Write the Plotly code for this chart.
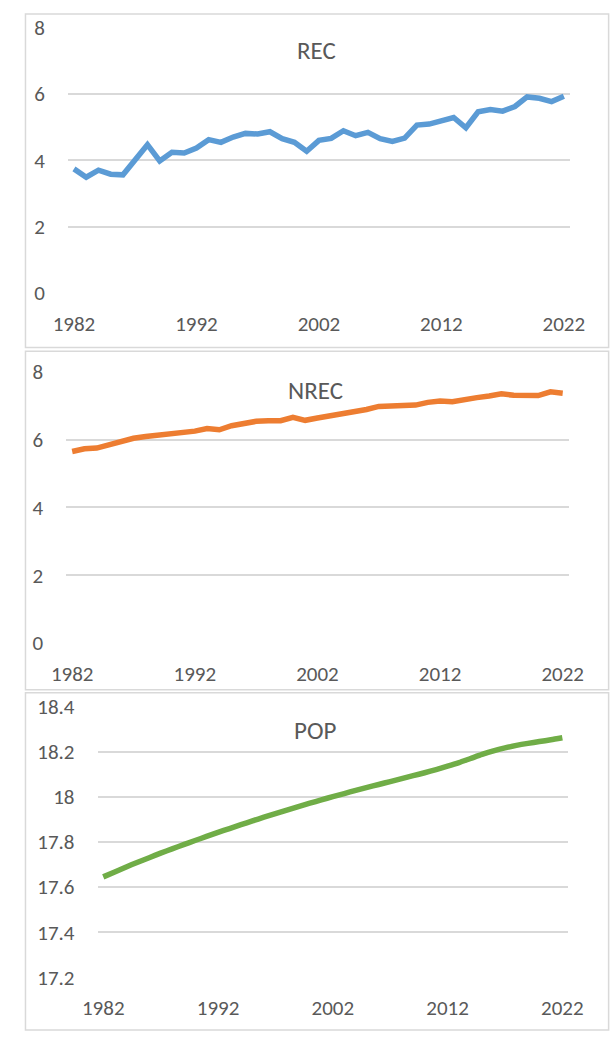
import plotly.graph_objects as go

# Annual series, 1982-2022
years = list(range(1982, 2023))

rec = [3.74, 3.49, 3.70, 3.58, 3.56, 4.03, 4.47, 3.98, 4.24, 4.22,
       4.37, 4.62, 4.54, 4.70, 4.81, 4.79, 4.86, 4.65, 4.54, 4.27,
       4.60, 4.66, 4.89, 4.74, 4.84, 4.65, 4.57, 4.67, 5.06, 5.09,
       5.21, 5.29, 4.98, 5.46, 5.53, 5.48, 5.62, 5.91, 5.87, 5.77,
       5.93]

nrec = [5.65, 5.73, 5.75, 5.85, 5.94, 6.04, 6.09, 6.13, 6.19, 6.22,
        6.25, 6.33, 6.29, 6.41, 6.48, 6.54, 6.56, 6.56, 6.66, 6.57,
        6.64, 6.70, 6.74, 6.79, 6.89, 6.98, 7.00, 7.00, 7.02, 7.10,
        7.14, 7.12, 7.20, 7.24, 7.29, 7.35, 7.31, 7.30, 7.30, 7.41,
        7.37]

pop = [17.645, 17.667, 17.689, 17.710, 17.730, 17.750, 17.769, 17.788,
       17.806, 17.824, 17.842, 17.859, 17.876, 17.893, 17.909, 17.925,
       17.941, 17.956, 17.971, 17.986, 18.000, 18.014, 18.028, 18.041,
       18.054, 18.067, 18.080, 18.093, 18.106, 18.120, 18.135, 18.151,
       18.169, 18.187, 18.203, 18.216, 18.227, 18.236, 18.244, 18.252,
       18.261]

x_ticks = [1982, 1992, 2002, 2012, 2022]
titles = ["REC", "NREC", "POP"]
colors = ["#5B9BD5", "#ED7D31", "#70AD47"]

W, H = 613, 1046
FONT = "Carlito, Calibri, Lato, sans-serif"
TXT = "#595959"
GRID = "#D9D9D9"


def px_x(v):
    return v / W


def px_y(v):
    return 1 - v / H


# plot-area boxes in pixels: (left, right, top, bottom)
areas = [(54.7, 584.5, 15, 287), (52.8, 583.3, 368, 646), (86, 582.5, 711, 989)]
# outer panel frames: (top, bottom)
frames = [(1, 343), (347, 694), (697, 1043)]
# title anchors: (x, y)
title_pos = [(317, 38), (316, 387), (315, 736)]
y_ranges = [[0, 8], [0, 8], [17.2, 18.4]]
y_dticks = [2, 2, 0.2]

series = [rec, nrec, pop]

fig = go.Figure()

for i, (vals, col) in enumerate(zip(series, colors)):
    n = "" if i == 0 else str(i + 1)
    fig.add_trace(go.Scatter(
        x=years, y=vals, mode="lines",
        line=dict(color=col, width=5.5, shape="spline" if i == 2 else "linear",
                  smoothing=0.6),
        xaxis="x" + n, yaxis="y" + n, showlegend=False, hoverinfo="x+y"))

    l, r, t, b = areas[i]
    fig.update_layout({
        "xaxis" + n: dict(
            domain=[px_x(l), px_x(r)], anchor="y" + n,
            range=[1981.5, 2022.5], tickmode="array", tickvals=x_ticks,
            showgrid=False, zeroline=False, showline=False, ticks="",
            ticklabelstandoff=16,
            tickfont=dict(family=FONT, size=21, color=TXT)),
        "yaxis" + n: dict(
            domain=[px_y(b), px_y(t)], anchor="x" + n,
            range=y_ranges[i], dtick=y_dticks[i], tick0=y_ranges[i][0],
            showgrid=True, gridcolor=GRID, gridwidth=1.5,
            zeroline=False, showline=False, ticks="",
            ticklabelstandoff=22,
            tickfont=dict(family=FONT, size=21, color=TXT)),
    })

    ft, fb = frames[i]
    fig.add_shape(type="rect", xref="paper", yref="paper",
                  x0=px_x(10), x1=1.02, y0=px_y(fb), y1=px_y(ft),
                  line=dict(color=GRID, width=1.5), layer="below")

    tx, ty = title_pos[i]
    fig.add_annotation(x=px_x(tx), y=px_y(ty), xref="paper", yref="paper",
                       text=titles[i], showarrow=False,
                       font=dict(family=FONT, size=25, color=TXT),
                       xanchor="center", yanchor="middle")

fig.update_layout(
    width=W, height=H,
    margin=dict(l=0, r=0, t=0, b=0),
    paper_bgcolor="white", plot_bgcolor="white",
)

# page without body margin so the figure sits flush in the window
fig.write_html(
    "out.html",
    post_script="document.body.style.margin='0';"
                "document.body.style.overflow='hidden';",
)
